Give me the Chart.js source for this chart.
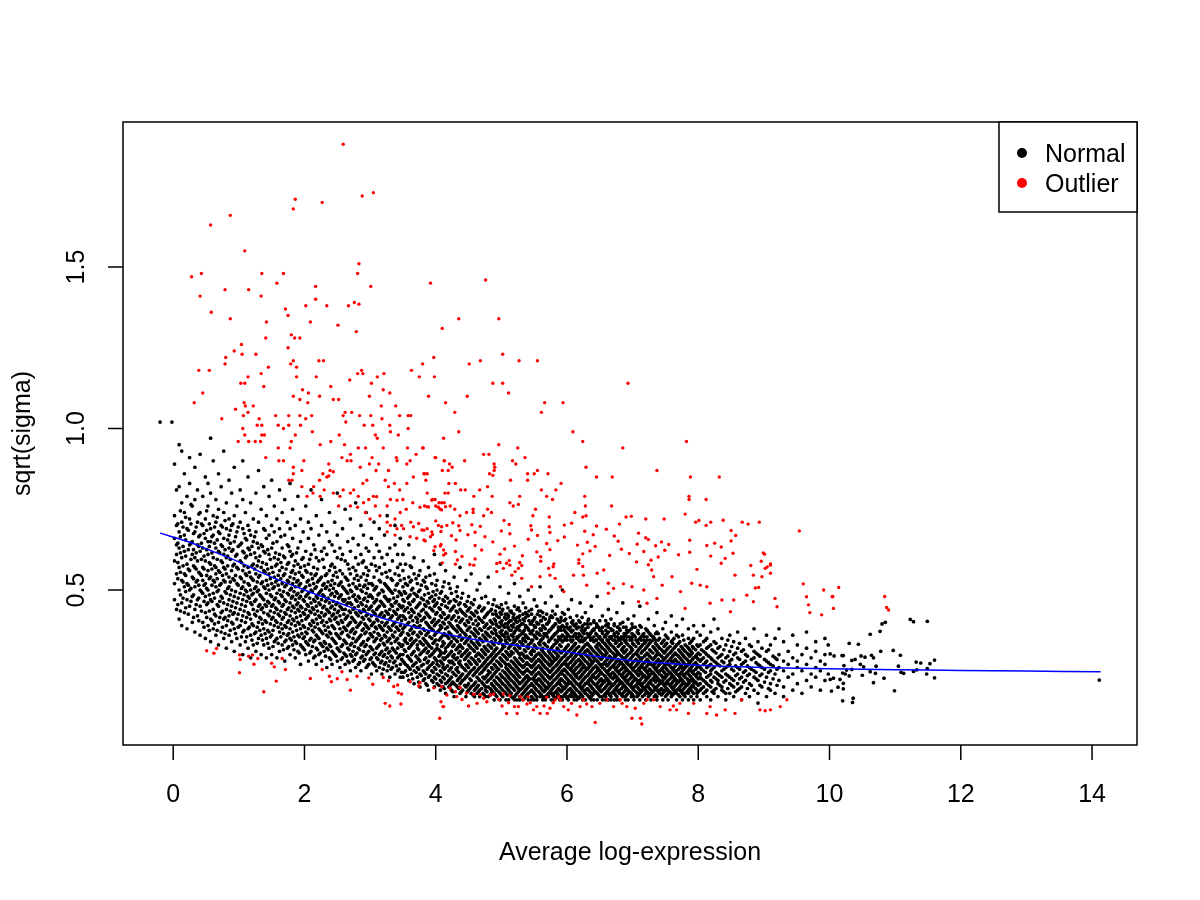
<!DOCTYPE html>
<html>
<head>
<meta charset="utf-8">
<title>sqrt(sigma) vs average log-expression</title>
<script src="https://cdn.jsdelivr.net/npm/chart.js@4.4.0/dist/chart.umd.min.js"></script>
<style>
  html, body { margin: 0; padding: 0; background: #fff; }
  canvas { display: block; }
</style>
</head>
<body>
<canvas id="saPlot" width="1200" height="900"></canvas>
<script>
const xTicks = [0, 2, 4, 6, 8, 10, 12, 14];
const yTicks = [0.5, 1.0, 1.5];

// fitted trend (blue)
const trendX = [-0.2, 0.25, 0.5, 1.0, 1.5, 2.0, 2.5, 3.0, 3.5, 4.0, 4.5, 5.0, 5.5, 6.0, 6.5, 7.0, 7.5, 8.0, 8.5, 9.0, 10.0, 11.0, 12.0, 13.0, 14.13];
const trendY = [0.676, 0.648, 0.628, 0.587, 0.540, 0.500, 0.462, 0.425, 0.395, 0.370, 0.350, 0.334, 0.322, 0.308, 0.293, 0.281, 0.273, 0.267, 0.263, 0.260, 0.256, 0.253, 0.251, 0.249, 0.247];

// normal genes, columns: [x, y, y, ...]
const normalLeft = [
  [-0.20,1.02],[-0.02,1.02],
  [0.02,.47,.52,.59,.66,.73,.89],[0.05,.44,.55,.61,.64,.70,.81],[0.09,.41,.50,.57,.63,.68,.82,.95],
  [0.13,.39,.46,.53,.60,.71,.77,.93],[0.17,.43,.51,.55,.62,.67,.74,.86],[0.21,.38,.47,.52,.58,.69,.79],
  [0.25,.45,.50,.56,.64,.72,.83,.91],[0.29,.40,.48,.54,.61,.65,.76],[0.33,.37,.44,.51,.57,.60,.68,.78,.88],
  [0.37,.42,.47,.53,.59,.64,.71,.81],[0.41,.36,.45,.50,.55,.62,.67,.74,.92],[0.45,.40,.49,.53,.57,.63,.70,.79],
  [0.49,.35,.43,.48,.52,.59,.66,.72,.85],[0.53,.39,.46,.50,.56,.61,.65,.76,.83],[0.57,.34,.41,.47,.54,.58,.65,.69,.80,.97],
  [0.61,.38,.44,.49,.53,.60,.67,.73,.90],[0.65,.36,.42,.51,.55,.57,.63,.71,.78],[0.69,.33,.40,.45,.50,.56,.62,.68,.75,.86],
  [0.73,.37,.43,.48,.52,.59,.64,.70,.82],[0.77,.35,.41,.46,.53,.57,.61,.66,.74,.93],[0.81,.32,.39,.44,.49,.55,.60,.69,.77],
  [0.85,.36,.42,.47,.51,.54,.63,.67,.72,.84],[0.89,.34,.40,.45,.50,.56,.62,.70,.80],[0.93,.31,.38,.43,.48,.53,.58,.65,.73,.88],
  [0.97,.35,.41,.46,.52,.57,.61,.68,.76],[1.02,.33,.39,.44,.49,.54,.59,.64,.71,.81],[1.06,.30,.37,.42,.47,.51,.56,.62,.69,.78,.90],
  [1.10,.34,.40,.45,.50,.55,.60,.66,.74],[1.14,.32,.38,.43,.48,.52,.57,.63,.70,.85],[1.18,.29,.36,.41,.46,.50,.54,.61,.67,.77],
  [1.22,.33,.39,.44,.49,.53,.58,.65,.72],[1.26,.31,.37,.42,.47,.51,.55,.60,.68,.80],[1.30,.35,.40,.45,.50,.54,.59,.63,.71,.87],
  [1.34,.30,.36,.41,.44,.48,.52,.57,.64,.75],[1.38,.33,.38,.43,.47,.51,.56,.62,.69,.82],[1.42,.29,.35,.40,.45,.49,.53,.58,.66,.73],
  [1.46,.32,.37,.42,.46,.50,.55,.61,.67,.79],[1.50,.30,.36,.41,.45,.48,.52,.57,.63,.70,.84],[1.54,.34,.39,.43,.47,.51,.54,.60,.68,.76],
  [1.58,.29,.35,.40,.44,.49,.53,.58,.65,.72],[1.62,.31,.37,.42,.46,.50,.56,.61,.69,.81],[1.66,.33,.38,.41,.45,.48,.52,.57,.63,.74],
  [1.70,.28,.34,.39,.43,.47,.51,.55,.60,.67,.78],[1.74,.32,.36,.40,.44,.49,.53,.58,.64,.71],[1.78,.30,.35,.38,.42,.46,.50,.54,.62,.69,.83],
  [1.82,.33,.37,.41,.45,.48,.52,.56,.61,.66,.75],[1.86,.29,.34,.39,.43,.47,.51,.55,.59,.70],[1.90,.31,.36,.40,.44,.46,.49,.53,.58,.63,.79],
  [1.94,.27,.33,.38,.42,.45,.48,.52,.57,.65,.72],[1.98,.32,.35,.39,.43,.47,.50,.54,.60,.68],[2.02,.30,.34,.37,.41,.44,.48,.51,.56,.62,.76],
  [2.06,.28,.33,.38,.42,.45,.49,.53,.58,.66,.71],[2.10,.31,.35,.39,.43,.46,.50,.55,.61,.69,.81],[2.14,.29,.34,.37,.40,.44,.47,.52,.57,.64],
  [2.18,.27,.32,.36,.41,.45,.48,.51,.55,.60,.73],[2.22,.30,.35,.38,.42,.46,.49,.53,.59,.67],[2.26,.28,.33,.37,.40,.43,.47,.50,.54,.62,.70,.78],
  [2.30,.31,.34,.39,.42,.45,.48,.52,.57,.63],[2.34,.26,.32,.36,.40,.44,.47,.51,.55,.61,.68],[2.38,.29,.33,.37,.41,.43,.46,.50,.56,.65,.74],
  [2.42,.27,.31,.35,.39,.42,.45,.49,.53,.58,.64],[2.46,.30,.34,.38,.41,.44,.48,.52,.57,.62,.71],[2.50,.28,.32,.36,.40,.43,.46,.49,.54,.60,.67,.80],
  [2.54,.26,.31,.35,.38,.42,.45,.48,.52,.56,.63],[2.58,.29,.33,.37,.40,.44,.47,.51,.55,.61,.69],[2.62,.27,.30,.34,.38,.41,.44,.47,.50,.54,.59,.75],
  [2.66,.28,.32,.36,.39,.42,.46,.49,.53,.58,.65],[2.70,.25,.30,.33,.37,.40,.43,.46,.50,.55,.62,.72],[2.74,.28,.31,.35,.38,.41,.44,.48,.52,.57,.66],
  [2.78,.26,.30,.34,.37,.40,.43,.47,.51,.56,.60,.77],[2.82,.27,.32,.35,.39,.42,.45,.48,.53,.58,.64],[2.86,.25,.29,.33,.36,.40,.43,.46,.50,.54,.61,.70],
  [2.90,.28,.31,.34,.38,.41,.44,.47,.51,.55,.59,.67],[2.94,.26,.30,.33,.37,.39,.42,.45,.49,.53,.57,.63,.74],[2.98,.27,.31,.35,.38,.41,.44,.48,.52,.56,.62],
  [3.02,.24,.29,.32,.36,.39,.42,.45,.48,.52,.58,.66],[3.06,.27,.30,.34,.37,.40,.43,.46,.50,.54,.60,.71],[3.10,.25,.29,.32,.35,.38,.41,.44,.47,.51,.56,.64],
  [3.14,.26,.30,.33,.36,.39,.42,.45,.49,.53,.57,.62,.69],[3.18,.24,.28,.31,.35,.38,.40,.43,.46,.50,.55,.60],[3.22,.27,.30,.33,.36,.39,.42,.45,.48,.52,.58,.67],
  [3.26,.25,.29,.32,.34,.37,.40,.43,.47,.51,.54,.61,.73],[3.30,.23,.28,.31,.35,.38,.41,.44,.47,.50,.56,.63],[3.34,.26,.29,.32,.36,.39,.42,.45,.49,.53,.59],
  [3.38,.24,.28,.31,.34,.37,.40,.43,.46,.50,.55,.64,.70],[3.42,.25,.29,.32,.35,.38,.41,.44,.48,.52,.57,.61],[3.46,.23,.27,.30,.33,.36,.39,.42,.45,.49,.53,.58,.66]
];

// second pass over the left cloud, between the columns above
const normalLeftFill = [
  [0.07,.455,.535,.585,.645,.705],[0.11,.435,.485,.555,.615,.665,.745],[0.15,.475,.525,.575,.635,.695],
  [0.19,.445,.495,.545,.605,.655,.725],[0.23,.425,.515,.565,.625,.685],[0.27,.465,.505,.595,.645,.705,.765],
  [0.31,.415,.485,.535,.575,.625,.675],[0.35,.455,.525,.565,.615,.695],[0.39,.405,.475,.515,.555,.635,.665,.735],
  [0.43,.435,.495,.545,.595,.645,.705],[0.47,.385,.465,.515,.565,.605,.675],[0.51,.415,.455,.505,.545,.625,.685,.745],
  [0.55,.375,.435,.485,.535,.585,.635,.705],[0.59,.405,.465,.515,.565,.615,.665],[0.63,.395,.425,.475,.525,.575,.645,.695],
  [0.67,.375,.455,.495,.535,.595,.655,.725],[0.71,.415,.465,.515,.555,.615,.675],[0.75,.385,.435,.475,.545,.585,.635,.695],
  [0.79,.365,.415,.495,.525,.565,.625,.715],[0.83,.405,.455,.505,.575,.605,.655],[0.87,.375,.435,.485,.525,.595,.645,.685],
  [0.91,.395,.425,.465,.535,.575,.625,.705],[0.95,.365,.445,.495,.545,.605,.665],[0.99,.385,.425,.475,.515,.565,.635,.695],
  [1.04,.355,.405,.455,.505,.535,.585,.645],[1.08,.375,.435,.485,.525,.575,.615,.675],[1.12,.355,.415,.465,.495,.545,.605,.655],
  [1.16,.385,.425,.475,.515,.555,.625,.685],[1.20,.345,.395,.455,.485,.535,.575,.635],[1.24,.365,.425,.465,.505,.565,.615,.665],
  [1.28,.335,.385,.435,.495,.525,.575,.645],[1.32,.375,.415,.455,.485,.545,.605],[1.36,.345,.395,.445,.475,.525,.585,.635],
  [1.40,.365,.405,.455,.505,.555,.615,.685],[1.44,.335,.375,.425,.465,.515,.565,.625],[1.48,.355,.395,.435,.485,.535,.595],
  [1.52,.325,.375,.415,.455,.505,.555,.645],[1.56,.345,.405,.445,.475,.525,.575,.615],[1.60,.335,.385,.425,.465,.515,.545,.595],
  [1.64,.355,.395,.435,.485,.535,.585,.665],[1.68,.315,.365,.415,.455,.495,.545,.605],[1.72,.345,.385,.425,.465,.515,.565],
  [1.76,.325,.365,.405,.445,.485,.525,.585,.635],[1.80,.345,.395,.435,.475,.505,.555,.605],[1.84,.315,.355,.405,.445,.495,.535,.575],
  [1.88,.335,.375,.415,.455,.485,.525,.615],[1.92,.305,.355,.395,.435,.475,.515,.555],[1.96,.325,.365,.405,.445,.495,.545,.595],
  [2.00,.315,.355,.385,.425,.465,.505,.575],[2.04,.335,.365,.415,.455,.485,.525,.555],[2.08,.305,.345,.395,.435,.475,.515,.595],
  [2.12,.325,.375,.405,.445,.495,.535],[2.16,.295,.345,.385,.425,.465,.505,.545,.625],[2.20,.315,.355,.395,.435,.475,.525,.565],
  [2.24,.305,.335,.375,.415,.455,.495,.535],[2.28,.325,.365,.405,.445,.485,.515,.595],[2.32,.295,.335,.375,.425,.465,.505,.545],
  [2.36,.315,.355,.385,.435,.475,.525],[2.40,.285,.325,.365,.405,.445,.485,.515,.575],[2.44,.305,.345,.385,.425,.465,.505,.545],
  [2.48,.295,.335,.365,.415,.455,.495,.555],[2.52,.315,.355,.395,.435,.475,.515],[2.56,.285,.325,.365,.405,.445,.485,.525,.595],
  [2.60,.305,.345,.385,.425,.465,.505],[2.64,.295,.335,.375,.415,.455,.495,.535],[2.68,.275,.315,.355,.395,.435,.475,.515,.565],
  [2.72,.295,.335,.375,.415,.455,.495],[2.76,.285,.325,.365,.405,.445,.485,.535],[2.80,.305,.345,.385,.425,.465,.505,.545],
  [2.84,.275,.315,.355,.395,.435,.475,.515],[2.88,.295,.335,.375,.415,.455,.495,.585],[2.92,.285,.325,.365,.395,.435,.475,.515],
  [2.96,.265,.305,.345,.385,.425,.465,.505,.545],[3.00,.285,.325,.365,.405,.445,.485],[3.04,.275,.315,.355,.395,.435,.475,.515],
  [3.08,.265,.305,.345,.385,.425,.465,.505,.575],[3.12,.285,.325,.365,.405,.445,.485],[3.16,.275,.305,.345,.385,.425,.465,.525],
  [3.20,.255,.295,.335,.375,.415,.455,.495],[3.24,.275,.315,.355,.395,.435,.475,.515,.555],[3.28,.265,.305,.345,.385,.425,.465,.505],
  [3.32,.255,.295,.335,.375,.415,.455,.495,.535],[3.36,.275,.315,.355,.395,.435,.475],[3.40,.265,.305,.345,.385,.425,.465,.515],
  [3.44,.255,.295,.335,.375,.415,.455,.495,.545],[3.48,.245,.285,.325,.365,.405,.445,.485]
];

const normalCore = [
  [3.50,.23,.28,.30,.33,.37,.38,.42,.45,.47,.51,.56,.61],[3.54,.25,.27,.31,.34,.35,.39,.41,.44,.49,.52,.58],
  [3.59,.22,.26,.29,.32,.36,.40,.43,.46,.48,.54,.64],[3.63,.24,.28,.30,.33,.35,.38,.42,.44,.50,.53,.57],
  [3.67,.21,.25,.27,.31,.34,.37,.39,.43,.47,.49,.55,.60],[3.72,.23,.26,.29,.32,.33,.36,.40,.41,.45,.48,.52],
  [3.76,.20,.24,.28,.30,.34,.37,.39,.42,.46,.50,.56],[3.81,.22,.25,.27,.31,.33,.35,.38,.41,.44,.47,.53,.59],
  [3.85,.21,.24,.29,.32,.34,.36,.40,.43,.45,.51,.54],[3.89,.19,.23,.26,.28,.31,.33,.37,.39,.42,.46,.49,.57],
  [3.94,.22,.25,.27,.30,.32,.35,.38,.40,.44,.48,.52],[3.98,.20,.23,.26,.29,.31,.34,.36,.39,.41,.45,.47,.55,.61],
  [4.02,.21,.24,.27,.28,.32,.33,.37,.40,.43,.46,.50,.53],[4.07,.19,.22,.25,.28,.30,.31,.35,.38,.39,.42,.44,.49,.58],
  [4.11,.20,.23,.26,.27,.29,.33,.34,.36,.40,.43,.47,.51],[4.15,.18,.21,.24,.26,.29,.31,.32,.36,.38,.41,.45,.48,.56],
  [4.20,.20,.22,.25,.28,.30,.33,.35,.37,.40,.42,.46,.52],[4.24,.19,.21,.23,.26,.28,.31,.34,.36,.39,.41,.44,.49],
  [4.28,.17,.21,.24,.27,.29,.30,.33,.35,.38,.42,.45,.47,.54],[4.33,.20,.22,.25,.26,.29,.32,.34,.37,.39,.43,.48,.51],
  [4.37,.18,.21,.23,.27,.28,.31,.33,.36,.38,.40,.44,.46,.57],[4.41,.19,.22,.24,.26,.30,.32,.35,.37,.41,.43,.49],
  [4.46,.17,.20,.23,.25,.27,.29,.31,.34,.36,.39,.42,.45,.53],[4.50,.19,.21,.24,.26,.28,.30,.33,.35,.38,.40,.44,.48],
  [4.54,.18,.20,.22,.25,.27,.29,.32,.34,.37,.41,.43,.46,.55],[4.59,.17,.19,.21,.24,.26,.28,.31,.33,.36,.38,.42,.47],
  [4.63,.18,.20,.23,.25,.27,.30,.32,.34,.37,.39,.43,.50],[4.67,.17,.19,.22,.24,.26,.28,.30,.33,.35,.38,.41,.45,.52],
  [4.72,.18,.21,.23,.25,.27,.29,.31,.34,.36,.40,.44],[4.76,.17,.19,.20,.23,.26,.28,.30,.32,.35,.37,.39,.42,.48],
  [4.80,.17,.20,.22,.24,.25,.27,.29,.31,.33,.36,.38,.43,.46,.54],[4.85,.18,.19,.21,.23,.26,.28,.30,.32,.34,.37,.40,.44],
  [4.89,.16,.18,.20,.22,.24,.27,.29,.31,.33,.35,.38,.41,.47],[4.93,.17,.19,.21,.23,.25,.26,.28,.30,.32,.36,.39,.42,.45],
  [4.98,.16,.18,.20,.22,.24,.27,.29,.31,.34,.35,.37,.40,.43,.51],[5.02,.17,.19,.21,.23,.25,.28,.30,.32,.33,.36,.39,.44],
  [5.07,.16,.18,.20,.22,.24,.26,.27,.29,.31,.34,.37,.41,.46],[5.11,.16,.19,.21,.23,.25,.27,.30,.32,.35,.38,.40,.42,.49],
  [5.15,.17,.18,.20,.22,.24,.26,.28,.30,.31,.33,.36,.39,.43],[5.20,.16,.17,.19,.21,.23,.25,.27,.29,.32,.34,.37,.41,.45,.52],
  [5.24,.16,.18,.20,.22,.24,.26,.28,.31,.33,.35,.38,.40,.44],[5.28,.16,.17,.19,.21,.23,.25,.27,.29,.30,.32,.34,.36,.39,.42,.48],
  [5.33,.16,.18,.20,.22,.24,.26,.28,.30,.33,.35,.37,.41,.46],[5.37,.17,.19,.21,.23,.25,.27,.29,.31,.34,.36,.39,.43],
  [5.41,.16,.18,.20,.22,.23,.25,.27,.29,.32,.33,.35,.38,.42,.50],[5.46,.16,.17,.19,.21,.24,.26,.28,.30,.31,.34,.37,.40,.44],
  [5.50,.16,.18,.20,.22,.23,.25,.27,.29,.31,.33,.36,.39,.41,.47],[5.54,.16,.17,.19,.21,.22,.24,.26,.28,.30,.32,.35,.37,.40,.45],
  [5.59,.17,.18,.20,.22,.24,.26,.28,.30,.33,.34,.36,.38,.42,.51],[5.63,.16,.17,.19,.21,.23,.25,.27,.29,.31,.32,.35,.39,.43],
  [5.67,.16,.17,.19,.20,.22,.24,.26,.28,.30,.33,.36,.38,.41,.46],[5.72,.17,.18,.20,.21,.23,.25,.27,.29,.31,.34,.37,.40],
  [5.76,.16,.18,.19,.21,.23,.25,.27,.28,.30,.32,.35,.38,.42,.48],[5.80,.16,.17,.18,.20,.22,.24,.26,.28,.29,.31,.33,.36,.39],
  [5.85,.17,.18,.19,.21,.23,.25,.27,.29,.30,.32,.34,.37,.41,.45],[5.89,.16,.17,.19,.21,.22,.24,.26,.28,.31,.33,.35,.38,.40],
  [5.93,.16,.17,.19,.20,.22,.24,.25,.27,.29,.31,.34,.36,.39,.43,.50],[5.98,.17,.18,.20,.21,.23,.25,.27,.28,.30,.32,.35,.37,.41],
  [6.02,.16,.17,.19,.21,.22,.24,.26,.27,.29,.31,.33,.36,.38,.44],[6.07,.17,.18,.19,.21,.23,.25,.26,.28,.30,.32,.34,.37,.40,.47],
  [6.11,.16,.17,.18,.20,.22,.24,.25,.27,.29,.31,.33,.36,.39],[6.15,.16,.17,.19,.21,.23,.24,.26,.28,.30,.32,.35,.38,.42],
  [6.20,.17,.18,.20,.21,.23,.25,.27,.28,.30,.31,.34,.36,.40,.46],[6.24,.16,.17,.19,.20,.22,.24,.26,.27,.29,.32,.34,.37,.39],
  [6.28,.16,.18,.19,.21,.23,.25,.26,.28,.30,.31,.33,.35,.38,.43],[6.33,.17,.19,.21,.22,.24,.26,.27,.29,.31,.33,.36,.41],
  [6.37,.16,.17,.18,.20,.22,.23,.25,.27,.28,.30,.32,.35,.37,.45],[6.41,.16,.18,.19,.21,.23,.24,.26,.28,.29,.31,.34,.38,.40],
  [6.46,.16,.18,.20,.21,.23,.25,.26,.28,.30,.32,.33,.36,.39,.48],[6.50,.17,.19,.20,.22,.24,.25,.27,.29,.31,.33,.35,.38],
  [6.54,.16,.17,.19,.21,.22,.24,.26,.27,.29,.30,.32,.34,.37,.42],[6.59,.16,.17,.18,.20,.22,.23,.25,.27,.28,.30,.31,.33,.36,.39],
  [6.63,.16,.18,.19,.21,.22,.24,.25,.27,.29,.32,.34,.37,.44],[6.67,.16,.17,.18,.20,.21,.23,.24,.26,.28,.29,.31,.33,.35,.38,.41],
  [6.72,.16,.18,.19,.21,.23,.24,.26,.27,.29,.30,.32,.36,.39],[6.76,.16,.17,.19,.20,.22,.23,.25,.26,.28,.30,.31,.34,.37,.43],
  [6.80,.16,.18,.19,.21,.22,.24,.25,.27,.28,.30,.33,.35,.38],[6.85,.17,.18,.20,.21,.23,.24,.26,.27,.29,.31,.32,.35,.40,.46],
  [6.89,.16,.17,.19,.20,.22,.23,.25,.26,.28,.29,.31,.34,.36],[6.93,.16,.18,.19,.21,.22,.24,.25,.27,.28,.30,.33,.37,.41],
  [6.98,.17,.18,.20,.21,.23,.24,.26,.27,.29,.31,.32,.35,.38],[7.02,.16,.17,.19,.20,.22,.23,.25,.26,.28,.30,.33,.36,.42],
  [7.07,.17,.18,.20,.21,.22,.24,.25,.27,.28,.30,.31,.34,.37],[7.11,.16,.18,.19,.21,.22,.24,.25,.26,.28,.29,.32,.35,.39,.45],
  [7.15,.17,.19,.20,.21,.23,.24,.26,.27,.29,.31,.33,.36],[7.20,.16,.18,.19,.20,.22,.23,.25,.26,.28,.30,.32,.34,.38],
  [7.24,.17,.18,.20,.21,.23,.24,.25,.27,.28,.30,.33,.37,.41],[7.28,.16,.18,.19,.21,.22,.24,.25,.27,.29,.31,.34,.36],
  [7.33,.17,.19,.20,.22,.23,.24,.26,.27,.29,.32,.35,.39],[7.37,.16,.17,.19,.20,.22,.23,.25,.26,.28,.30,.31,.33,.37,.43],
  [7.41,.18,.19,.21,.22,.24,.25,.27,.28,.30,.32,.35],[7.46,.16,.18,.19,.21,.22,.23,.25,.26,.28,.29,.31,.34,.38],
  [7.50,.17,.19,.20,.21,.23,.24,.26,.27,.29,.31,.33,.36,.40],[7.54,.16,.18,.19,.21,.22,.24,.25,.27,.28,.30,.32,.35],
  [7.59,.17,.18,.20,.21,.23,.24,.26,.28,.29,.31,.34,.37,.42],[7.63,.18,.19,.20,.22,.23,.25,.26,.28,.30,.32,.35],
  [7.67,.16,.18,.19,.21,.22,.24,.25,.27,.28,.30,.33,.36,.39],[7.72,.17,.19,.20,.22,.23,.24,.26,.27,.29,.31,.34],
  [7.76,.16,.18,.19,.21,.22,.24,.25,.26,.28,.30,.32,.36,.41],[7.80,.17,.18,.20,.21,.23,.24,.26,.27,.29,.31,.33],
  [7.85,.16,.18,.19,.21,.22,.24,.25,.27,.28,.30,.32,.35,.38],[7.89,.17,.19,.20,.22,.23,.25,.26,.28,.30,.31,.34],
  [7.93,.16,.18,.20,.21,.22,.24,.25,.27,.29,.32,.35,.39],[7.98,.17,.18,.19,.21,.23,.24,.26,.27,.29,.30,.33,.37]
];

// second pass over the solid part of the cloud
const normalCoreFill = [
  [3.52,.245,.275,.315,.345,.385,.415,.435,.465,.495,.535],[3.57,.235,.265,.295,.335,.365,.395,.445,.475,.515],
  [3.61,.255,.285,.325,.345,.375,.415,.455,.485,.525,.575],[3.65,.225,.265,.305,.335,.365,.405,.435,.465,.505],
  [3.70,.245,.275,.295,.345,.385,.415,.445,.485,.535],[3.74,.215,.255,.285,.315,.355,.385,.425,.455,.495,.545],
  [3.78,.235,.265,.305,.335,.365,.405,.435,.475,.515],[3.83,.225,.245,.285,.315,.345,.375,.415,.455,.485,.525],
  [3.87,.205,.255,.275,.305,.335,.365,.395,.425,.465,.505],[3.91,.235,.265,.295,.325,.355,.385,.415,.445,.475,.545],
  [3.96,.215,.245,.275,.305,.335,.375,.405,.435,.465,.495],[4.00,.225,.255,.285,.315,.345,.365,.395,.425,.455,.485,.515],
  [4.05,.205,.235,.265,.295,.315,.345,.375,.405,.445,.475],[4.09,.215,.245,.275,.305,.325,.355,.385,.415,.455,.495],
  [4.13,.195,.225,.255,.285,.305,.335,.365,.395,.425,.465,.525],[4.18,.215,.235,.265,.295,.325,.355,.385,.415,.445,.475],
  [4.22,.205,.225,.255,.275,.305,.335,.365,.395,.435,.465,.505],[4.26,.185,.215,.245,.275,.295,.325,.355,.385,.415,.445],
  [4.31,.205,.235,.255,.285,.315,.345,.375,.405,.435,.465,.495],[4.35,.195,.225,.245,.275,.305,.325,.355,.385,.415,.455],
  [4.39,.185,.215,.235,.265,.295,.325,.345,.375,.405,.435,.475],[4.44,.205,.225,.255,.285,.305,.335,.365,.395,.425,.455],
  [4.48,.185,.205,.235,.265,.295,.315,.345,.375,.405,.435,.465],[4.52,.195,.225,.245,.275,.305,.325,.355,.385,.415,.445],
  [4.57,.175,.205,.235,.255,.285,.315,.335,.365,.395,.425,.455],[4.61,.195,.215,.245,.275,.295,.325,.355,.375,.405,.435],
  [4.65,.185,.205,.225,.255,.285,.305,.335,.365,.395,.415,.445],[4.70,.195,.215,.245,.265,.295,.315,.345,.375,.405,.435,.475],
  [4.74,.175,.205,.225,.255,.275,.305,.325,.355,.385,.415,.445],[4.78,.185,.215,.235,.265,.285,.315,.345,.365,.395,.425],
  [4.83,.175,.195,.225,.245,.275,.295,.325,.355,.385,.405,.435],[4.87,.185,.205,.235,.255,.285,.305,.335,.365,.395,.425,.455],
  [4.91,.175,.195,.215,.245,.265,.295,.315,.345,.375,.405,.435],[4.96,.185,.205,.225,.255,.275,.305,.335,.355,.385,.415],
  [5.00,.175,.195,.215,.235,.265,.285,.315,.345,.365,.395,.425,.455],[5.05,.185,.205,.225,.245,.275,.295,.325,.355,.385,.415],
  [5.09,.175,.195,.215,.235,.255,.285,.305,.335,.365,.395,.425],[5.13,.185,.205,.225,.245,.265,.295,.325,.345,.375,.405,.435],
  [5.18,.165,.195,.215,.235,.255,.275,.305,.335,.355,.385,.415],[5.22,.175,.205,.225,.245,.265,.285,.315,.345,.375,.405],
  [5.26,.185,.195,.215,.235,.255,.275,.305,.325,.355,.385,.415,.445],[5.31,.175,.195,.215,.245,.265,.285,.305,.335,.365,.395],
  [5.35,.165,.185,.205,.225,.245,.265,.295,.315,.345,.375,.405],[5.39,.175,.195,.215,.235,.255,.275,.295,.325,.355,.385,.425],
  [5.44,.185,.205,.225,.245,.265,.285,.305,.335,.365,.395],[5.48,.165,.185,.205,.225,.245,.265,.285,.315,.345,.375,.405],
  [5.52,.175,.195,.215,.235,.255,.275,.295,.325,.355,.385],[5.57,.185,.205,.225,.245,.265,.285,.305,.335,.365,.395,.435],
  [5.61,.175,.195,.215,.235,.255,.275,.295,.315,.345,.375,.405],[5.65,.165,.185,.205,.225,.245,.265,.285,.305,.335,.365,.385],
  [5.70,.175,.195,.215,.235,.255,.275,.295,.325,.355,.395],[5.74,.185,.205,.225,.245,.265,.285,.305,.315,.345,.375,.415],
  [5.78,.175,.195,.215,.235,.255,.275,.295,.325,.355,.385],[5.83,.165,.185,.205,.225,.245,.265,.285,.305,.335,.365,.395],
  [5.87,.175,.195,.215,.235,.255,.275,.295,.315,.345,.375],[5.91,.185,.205,.225,.245,.265,.285,.305,.325,.355,.385,.405],
  [5.96,.175,.195,.215,.235,.255,.275,.295,.315,.345,.375],[6.00,.165,.185,.205,.225,.245,.265,.285,.305,.325,.355,.385],
  [6.05,.175,.195,.215,.235,.255,.275,.295,.315,.345,.375],[6.09,.185,.205,.225,.245,.265,.285,.305,.325,.355,.395],
  [6.13,.175,.195,.215,.235,.255,.275,.295,.315,.335,.365],[6.18,.165,.185,.205,.225,.245,.265,.285,.305,.325,.355,.385],
  [6.22,.175,.195,.215,.235,.255,.275,.295,.315,.345,.375],[6.26,.185,.205,.225,.245,.265,.285,.305,.325,.345,.365],
  [6.31,.175,.195,.215,.235,.255,.275,.295,.315,.335,.365,.395],[6.35,.165,.185,.205,.225,.245,.265,.285,.305,.325,.355],
  [6.39,.175,.195,.215,.235,.255,.275,.295,.315,.345,.375],[6.44,.185,.205,.225,.245,.265,.285,.305,.325,.345,.365],
  [6.48,.175,.195,.215,.235,.255,.275,.295,.315,.335,.355,.385],[6.52,.185,.205,.225,.245,.265,.285,.305,.325,.345,.375],
  [6.57,.175,.195,.215,.235,.255,.275,.295,.315,.335,.355],[6.61,.185,.205,.225,.245,.265,.285,.305,.325,.345,.365,.395],
  [6.65,.175,.195,.215,.235,.255,.275,.295,.315,.335,.355],[6.70,.185,.205,.225,.245,.265,.285,.305,.325,.345,.375],
  [6.74,.175,.195,.215,.235,.255,.275,.295,.315,.335,.355],[6.78,.185,.205,.225,.245,.265,.285,.305,.325,.345,.365,.385],
  [6.83,.175,.195,.215,.235,.255,.275,.295,.315,.335,.355],[6.87,.185,.205,.225,.245,.265,.285,.305,.325,.345,.365],
  [6.91,.175,.195,.215,.235,.255,.275,.295,.315,.335,.355,.375],[6.96,.185,.205,.225,.245,.265,.285,.305,.325,.345],
  [7.00,.175,.195,.215,.235,.255,.275,.295,.315,.335,.355,.385],[7.05,.185,.205,.225,.245,.265,.285,.305,.325,.345],
  [7.09,.175,.195,.215,.235,.255,.275,.295,.315,.335,.365],[7.13,.185,.205,.225,.245,.265,.285,.305,.325,.345],
  [7.18,.175,.195,.215,.235,.255,.275,.295,.315,.335,.355],[7.22,.185,.205,.225,.245,.265,.285,.305,.325,.345,.375],
  [7.26,.175,.195,.215,.235,.255,.275,.295,.315,.335],[7.31,.185,.205,.225,.245,.265,.285,.305,.325,.345,.355],
  [7.35,.175,.195,.215,.235,.255,.275,.295,.315,.335],[7.39,.185,.205,.225,.245,.265,.285,.305,.325,.345,.365],
  [7.44,.175,.195,.215,.235,.255,.275,.295,.315,.335],[7.48,.185,.205,.225,.245,.265,.285,.305,.325,.345],
  [7.52,.175,.195,.215,.235,.255,.275,.295,.315,.335,.355],[7.57,.185,.205,.225,.245,.265,.285,.305,.325],
  [7.61,.175,.195,.215,.235,.255,.275,.295,.315,.335,.345],[7.65,.185,.205,.225,.245,.265,.285,.305,.325],
  [7.70,.175,.195,.215,.235,.255,.275,.295,.315,.335,.355],[7.74,.185,.205,.225,.245,.265,.285,.305,.325],
  [7.78,.175,.195,.215,.235,.255,.275,.295,.315,.345],[7.83,.185,.205,.225,.245,.265,.285,.305,.325],
  [7.87,.195,.215,.235,.255,.275,.295,.315,.335],[7.91,.185,.205,.225,.245,.265,.285,.305,.325,.345],
  [7.96,.195,.215,.235,.255,.275,.295,.315],[8.00,.185,.205,.225,.245,.265,.285,.305,.325]
];

// upper edge of the solid band, x 4.9 to 7.4
const normalCoreUpper = [
  [4.92,.365,.395,.425],[4.97,.355,.385,.415,.445],[5.01,.375,.405,.435],[5.06,.345,.365,.395,.425],[5.10,.355,.385,.415,.445],
  [5.15,.375,.405,.435],[5.19,.345,.365,.395,.425],[5.24,.355,.385,.415],[5.28,.375,.405,.435],[5.33,.345,.365,.395,.425],
  [5.37,.355,.385,.415,.445],[5.42,.375,.405,.435],[5.46,.345,.365,.395,.425],[5.51,.355,.385,.415],[5.55,.365,.395,.425],
  [5.60,.345,.375,.405,.435],[5.64,.355,.385,.415],[5.69,.365,.395,.425],[5.73,.345,.375,.405],[5.78,.355,.385,.415,.435],
  [5.82,.345,.365,.395,.425],[5.87,.355,.385,.405],[5.91,.345,.375,.415],[5.96,.355,.385,.405,.425],[6.00,.345,.365,.395],
  [6.05,.355,.385,.415],[6.09,.345,.375,.405],[6.14,.355,.385,.395],[6.18,.345,.365,.405],[6.23,.355,.385,.415],
  [6.27,.345,.375,.395],[6.32,.355,.385,.405],[6.36,.345,.365,.395],[6.41,.355,.375,.405],[6.45,.345,.385,.395],
  [6.50,.355,.375,.405],[6.54,.345,.365,.385],[6.59,.355,.375,.405],[6.63,.345,.385,.395],[6.68,.355,.375],
  [6.72,.345,.365,.395],[6.77,.355,.385],[6.81,.345,.375,.395],[6.86,.355,.385],[6.90,.345,.365,.385],
  [6.95,.355,.375],[6.99,.345,.365,.395],[7.04,.355,.385],[7.08,.345,.375],[7.13,.355,.385],
  [7.17,.345,.365],[7.22,.355,.375],[7.26,.345,.365],[7.31,.355],[7.35,.345,.365]
];

const normalRight = [
  [8.03,.16,.19,.21,.23,.24,.26,.28,.30,.33,.36],[8.08,.18,.20,.22,.25,.27,.29,.31,.34,.39],[8.13,.17,.19,.21,.23,.26,.28,.30,.32,.35],
  [8.19,.16,.20,.22,.24,.25,.27,.29,.33,.37],[8.24,.18,.19,.23,.26,.28,.31,.34,.41],[8.30,.17,.21,.22,.24,.27,.29,.32,.38],
  [8.36,.19,.20,.23,.25,.28,.30,.35],[8.42,.16,.18,.22,.24,.26,.29,.33],[8.48,.18,.21,.23,.27,.28,.31,.36],
  [8.54,.17,.20,.22,.25,.30,.34],[8.60,.19,.21,.24,.26,.29,.32,.37],[8.66,.16,.20,.23,.27,.31],
  [8.72,.18,.22,.25,.28,.30,.35],[8.78,.17,.21,.24,.26,.33],[8.85,.19,.23,.25,.29,.31,.38],
  [8.91,.15,.18,.22,.27,.30,.34],[8.97,.20,.24,.26,.32],[9.04,.17,.23,.28,.31,.36],
  [9.10,.19,.21,.25,.27,.33],[9.17,.18,.24,.29,.35],[9.23,.22,.26,.30,.38],
  [9.30,.17,.20,.25,.28,.34],[9.37,.23,.27,.31],[9.44,.19,.24,.29,.36],
  [9.51,.21,.26,.28,.33],[9.58,.18,.25,.30],[9.65,.22,.27,.32,.37],
  [9.72,.20,.24,.29],[9.79,.23,.26,.31,.34],[9.86,.19,.25,.28],[9.93,.22,.27,.30,.35],[9.98,.24,.33],
  [8.05,.195,.225,.255,.285,.315],[8.11,.185,.215,.245,.275,.305,.345],[8.16,.205,.235,.265,.295,.325],
  [8.21,.185,.215,.255,.285,.315],[8.27,.195,.225,.245,.275,.305,.335],[8.33,.205,.235,.265,.295,.325],
  [8.39,.185,.215,.255,.275,.315],[8.45,.195,.235,.265,.295,.345],[8.51,.205,.225,.255,.285,.325],
  [8.57,.185,.235,.265,.305],[8.63,.195,.225,.255,.285,.335],[8.69,.215,.245,.275,.315],
  [8.75,.195,.235,.265,.295],[8.81,.205,.255,.285,.325],[8.88,.225,.245,.275,.305],
  [8.94,.205,.235,.265,.295],[9.01,.215,.255,.285],[9.07,.195,.245,.275,.315],[9.14,.225,.265,.295],[9.20,.205,.255,.285]
];

// sparse normal genes beyond x = 10, flat x,y pairs
const normalTail = [
  10.01,.302, 10.07,.296, 10.19,.297, 10.21,.297, 10.30,.335, 10.44,.332, 10.62,.363, 10.77,.372, 10.80,.395, 10.85,.40,
  11.23,.409, 11.28,.402, 11.49,.403, 10.97,.313, 11.08,.298, 10.78,.31, 10.64,.298, 10.67,.29, 10.54,.292, 10.48,.296,
  10.39,.285, 10.34,.282, 10.22,.266, 10.47,.27, 10.52,.262, 10.71,.264, 11.05,.264, 11.32,.277, 11.39,.274, 11.53,.272,
  11.60,.283, 11.49,.257, 11.33,.253, 11.28,.248, 11.13,.242, 11.09,.245, 11.48,.24, 11.60,.228, 10.83,.227, 10.67,.213,
  10.70,.242, 10.62,.247, 10.50,.236, 10.34,.254, 10.26,.252, 10.20,.243, 10.24,.24, 10.30,.234, 10.21,.211, 10.16,.223,
  10.06,.227, 10.01,.223, 10.03,.187, 10.13,.199, 10.21,.194, 10.99,.188, 10.20,.157, 10.36,.165, 10.35,.152, 14.11,.221
];

// outliers, flat x,y pairs
const outlierTop = [
  2.59,1.88, 2.88,1.72, 3.05,1.73, 1.86,1.71, 1.83,1.68, 2.27,1.70, 0.87,1.66, 0.57,1.63, 1.09,1.55, 0.28,1.47,
  0.43,1.48, 0.41,1.41, 0.58,1.36, 0.87,1.34, 0.79,1.43, 1.15,1.43, 1.35,1.48, 1.34,1.41, 1.68,1.48, 1.58,1.45,
  2.17,1.44, 2.83,1.51, 2.81,1.48, 3.01,1.44, 2.17,1.40, 2.02,1.38, 2.34,1.38, 2.67,1.38, 2.76,1.39, 2.83,1.385,
  1.71,1.37, 1.75,1.35, 1.42,1.33, 2.09,1.33, 2.51,1.32, 2.79,1.30, 1.41,1.28, 1.04,1.26, 0.93,1.24, 1.05,1.23,
  1.26,1.23, 0.80,1.22, 0.79,1.20, 1.75,1.25, 1.80,1.29, 1.85,1.28, 1.93,1.28, 1.83,1.21, 1.79,1.20, 1.88,1.19,
  1.45,1.19, 2.22,1.21, 2.29,1.21, 0.39,1.18, 0.55,1.18, 1.34,1.17, 1.14,1.16, 1.03,1.14, 1.09,1.14, 1.38,1.13,
  0.45,1.11, 0.32,1.08, 1.88,1.16, 2.18,1.16, 1.97,1.12, 2.06,1.11, 1.83,1.10, 1.93,1.09, 2.23,1.10, 2.40,1.13,
  2.44,1.09, 2.52,1.09, 2.05,1.08, 1.08,1.08, 1.22,1.07, 1.10,1.07, 0.95,1.06, 1.07,1.04, 1.14,1.05, 0.74,1.03,
  1.31,1.03, 1.56,1.04, 1.76,1.04, 1.93,1.04, 2.02,1.03, 2.11,1.04, 1.94,1.01, 1.28,1.01, 1.35,1.01, 1.06,1.00,
  1.60,1.01, 1.76,1.01, 1.68,1.00, 1.39,0.98, 1.35,0.98, 1.09,0.98, 0.99,0.96, 1.15,0.96, 1.25,0.96, 1.33,0.96,
  1.60,0.94, 1.78,0.94, 1.80,0.96, 1.86,0.98, 2.12,0.99, 2.24,0.95, 2.40,0.96, 2.53,0.98, 2.61,0.95, 2.59,1.04,
  2.63,1.02, 2.72,1.05, 2.62,1.05, 2.84,1.04, 3.01,1.04, 2.91,1.01, 3.04,1.01, 3.18,1.03, 3.30,1.01, 3.31,0.99,
  3.43,0.98, 3.08,0.98, 3.11,0.97, 2.82,0.94, 2.93,0.94, 3.20,0.94, 3.57,0.94, 3.58,1.00, 3.45,1.04, 3.58,1.04,
  3.62,1.04, 3.39,1.07, 3.17,1.07, 3.20,1.12, 3.30,1.11, 2.99,1.10, 3.02,1.14, 3.11,1.16, 3.21,1.17, 2.81,1.17,
  2.87,1.18, 2.89,1.17, 2.69,1.15, 3.63,1.18, 3.75,1.16
];

const outlierMid = [
  3.92,1.45, 4.76,1.46, 4.35,1.34, 4.96,1.34, 4.10,1.31, 3.97,1.22, 4.51,1.20, 4.68,1.21, 5.02,1.23, 5.27,1.21,
  5.55,1.21, 3.80,1.20, 3.98,1.16, 4.87,1.14, 5.02,1.14, 6.93,1.14, 3.89,1.10, 4.48,1.10, 5.11,1.11, 4.15,1.08,
  4.29,1.05, 5.66,1.08, 5.94,1.08, 5.61,1.05, 4.35,0.99, 6.09,0.99, 4.12,0.97, 4.96,0.95, 5.25,0.94, 6.24,0.96,
  6.85,0.94, 7.82,0.96, 3.80,0.94, 4.73,0.92, 4.81,0.92, 4.00,0.91, 4.44,0.90, 4.13,0.90, 4.21,0.89, 4.25,0.88,
  4.89,0.89, 4.90,0.88, 5.17,0.90, 5.22,0.89, 5.36,0.91, 4.10,0.87, 4.19,0.87, 6.29,0.88, 7.37,0.87, 3.83,0.86,
  3.87,0.86, 4.82,0.86, 4.89,0.87, 4.87,0.855, 5.40,0.86, 5.50,0.86, 5.55,0.87, 5.71,0.86, 6.45,0.85, 6.69,0.85,
  7.88,0.85, 8.32,0.85, 5.14,0.84, 5.40,0.84, 5.91,0.83, 4.20,0.83, 4.30,0.83, 4.38,0.81, 4.45,0.81, 4.67,0.81,
  4.79,0.82, 5.61,0.81, 5.83,0.81, 3.87,0.80, 4.19,0.80, 4.58,0.79, 4.86,0.79, 5.28,0.79, 5.69,0.79, 5.78,0.78,
  6.27,0.79, 7.86,0.79, 7.86,0.78, 8.12,0.78, 3.95,0.78, 4.05,0.77, 4.13,0.77, 3.83,0.76, 3.89,0.757, 4.00,0.76,
  4.07,0.75, 4.15,0.758, 4.22,0.76, 4.29,0.75, 4.57,0.75, 4.57,0.74, 4.79,0.75, 4.85,0.74, 5.13,0.77, 5.18,0.76,
  5.26,0.765, 5.52,0.75, 6.12,0.74, 6.28,0.76, 6.68,0.76, 7.80,0.735, 4.37,0.73, 4.47,0.74, 4.73,0.73, 5.48,0.73,
  5.73,0.726, 6.24,0.726, 6.29,0.73, 6.90,0.726, 6.98,0.728, 7.20,0.72, 7.48,0.72, 8.01,0.715, 8.38,0.716, 8.67,0.71,
  8.93,0.71, 9.54,0.683, 7.96,0.71, 8.12,0.70, 8.19,0.71, 8.76,0.704
];

const outlierBand = [
  4.00,.714, 4.26,.708, 4.35,.699, 4.55,.702, 4.68,.697, 5.04,.715, 5.12,.703, 5.45,.699, 5.73,.696, 5.96,.701, 6.07,.707, 6.45,.698, 6.80,.704,
  3.82,.685, 3.95,.672, 4.08,.681, 4.24,.668, 4.37,.684, 4.49,.671, 4.60,.679, 4.75,.665, 5.00,.683, 5.13,.674, 5.46,.686, 5.55,.669,
  5.74,.678, 5.96,.664, 6.27,.682, 6.40,.671, 6.60,.688, 6.72,.667, 7.09,.676, 7.20,.662, 8.50,.684, 8.57,.669,
  3.84,.652, 4.08,.641, 4.31,.655, 4.60,.638, 4.87,.649, 5.20,.636, 5.41,.657, 5.69,.644, 5.86,.653, 6.16,.639, 6.31,.648, 6.43,.635,
  6.78,.651, 7.07,.642, 7.24,.656, 7.35,.637, 7.44,.649, 7.55,.641, 7.87,.654, 8.13,.638, 8.25,.645, 8.35,.633, 8.50,.652,
  3.97,.622, 4.12,.608, 4.30,.619, 4.40,.604, 4.70,.624, 4.98,.611, 5.05,.627, 5.32,.606, 5.54,.618, 5.60,.603, 5.74,.625, 6.24,.612,
  6.35,.621, 6.65,.607, 6.83,.626, 6.95,.613, 7.17,.619, 7.39,.602, 7.49,.623, 7.70,.609, 7.87,.617, 8.19,.605, 8.53,.614, 9.01,.611,
  4.10,.584, 4.33,.593, 4.52,.579, 4.60,.596, 4.93,.582, 5.12,.591, 5.31,.576, 5.60,.589, 5.80,.581, 6.18,.594, 6.24,.573, 7.06,.587,
  7.24,.578, 7.28,.592, 8.35,.583, 8.41,.598, 8.80,.576, 8.96,.589, 9.10,.581, 9.05,.571
];

const outlierShoulder = [
  1.41,0.91, 1.68,0.90, 1.61,0.90, 1.83,0.88, 1.96,0.87, 1.99,0.90, 1.83,0.86, 2.14,0.82, 2.23,0.84, 2.28,0.86,
  2.34,0.85, 2.37,0.853, 2.39,0.87, 2.44,0.866, 2.37,0.89, 2.57,0.91, 2.65,0.90, 2.70,0.92, 2.71,0.90, 2.85,0.88,
  2.99,0.89, 3.03,0.91, 3.09,0.87, 3.13,0.89, 3.28,0.87, 3.41,0.90, 3.40,0.91, 3.56,0.89, 3.61,0.90, 3.70,0.92,
  3.81,0.94, 3.99,0.91, 4.13,0.90, 1.81,0.84, 1.76,0.84, 1.96,0.82, 2.04,0.79, 2.13,0.80, 2.24,0.79, 2.30,0.81,
  2.44,0.80, 2.54,0.79, 2.59,0.81, 2.70,0.80, 2.75,0.81, 2.82,0.79, 2.89,0.83, 2.95,0.84, 3.05,0.79, 3.10,0.789,
  3.23,0.84, 3.28,0.82, 3.37,0.83, 3.45,0.81, 3.50,0.78, 3.56,0.83, 3.66,0.85, 3.82,0.86, 3.85,0.84, 3.99,0.78,
  4.09,0.77, 4.14,0.80, 2.52,0.76, 2.70,0.76, 2.81,0.756, 2.90,0.77, 2.98,0.78, 3.08,0.76, 3.26,0.76, 3.31,0.78,
  3.41,0.778, 3.46,0.74, 3.55,0.75, 3.65,0.77, 3.76,0.756, 3.87,0.758, 3.94,0.778, 4.04,0.756, 4.09,0.748, 2.93,0.74,
  3.00,0.72, 3.15,0.73, 3.26,0.71, 3.31,0.70, 3.38,0.72, 3.41,0.69, 3.48,0.70, 3.51,0.69, 3.62,0.71, 3.66,0.696,
  3.74,0.706, 3.79,0.686, 3.87,0.69, 3.94,0.68, 4.04,0.70, 4.09,0.696, 4.17,0.70, 3.61,0.665, 3.71,0.66, 3.82,0.655,
  3.92,0.665, 3.99,0.634, 4.07,0.636, 4.15,0.613, 4.12,0.624, 3.26,0.68, 3.38,0.67
];

const outlierRight = [
  4.30,.580, 4.58,.577, 4.98,.585, 5.08,.583, 5.13,.577, 5.26,.567, 5.28,.585, 4.93,.557, 5.03,.567, 5.16,.546,
  5.21,.557, 5.31,.536, 5.46,.510, 5.59,.541, 5.72,.567, 5.79,.572, 5.74,.546, 5.82,.536, 5.90,.510, 5.95,.495,
  6.10,.546, 6.18,.583, 6.25,.546, 6.30,.515, 6.46,.552, 6.56,.562, 6.63,.521, 6.71,.505, 6.63,.490, 6.86,.519,
  6.99,.510, 7.09,.464, 7.17,.500, 7.22,.459, 7.29,.562, 7.32,.541, 7.37,.474, 7.45,.515, 7.60,.541, 7.73,.495,
  7.80,.443, 7.98,.564, 7.90,.521, 8.03,.515, 8.13,.510, 8.18,.459, 8.36,.469, 8.49,.433, 8.54,.469, 8.56,.546,
  8.74,.484, 8.84,.464, 8.84,.546, 8.92,.508, 8.97,.541, 9.02,.567, 9.10,.577, 9.10,.552, 9.17,.474, 9.20,.448,
  9.60,.519, 9.65,.479, 9.68,.454, 9.70,.430, 9.88,.423, 9.91,.500, 10.04,.479, 10.14,.508, 10.05,.480, 10.06,.443,
  10.84,.480, 10.87,.446, 10.90,.438, 8.99,.615, 8.87,.506
];

const outlierLow = [
  0.51,.312, 0.66,.319, 0.62,.304, 1.01,.299, 1.02,.285, 1.15,.295, 1.21,.299, 1.29,.288, 1.23,.270, 1.01,.244,
  1.38,.185, 1.50,.273, 1.54,.262, 1.57,.218, 1.71,.254, 1.66,.288, 2.09,.226, 2.27,.254, 2.38,.233, 2.41,.216,
  2.50,.225, 2.57,.247, 2.65,.223, 2.70,.190, 2.80,.233, 2.98,.228, 3.04,.208, 3.20,.229, 3.28,.219, 3.36,.201,
  3.42,.206, 3.48,.178, 3.43,.182, 3.23,.149, 3.30,.141, 3.47,.147, 3.61,.216, 3.74,.203, 3.76,.213, 3.97,.197,
  4.06,.103, 4.08,.154, 4.12,.139,
  4.09,.201, 4.22,.196, 4.37,.198, 4.30,.185, 4.11,.139, 4.40,.161, 4.50,.141, 4.58,.177, 4.68,.176, 4.73,.165,
  4.83,.175, 4.88,.178, 5.01,.141, 5.03,.178, 5.08,.118, 5.13,.173, 5.20,.139, 5.24,.118, 5.29,.170, 5.33,.160,
  5.39,.147, 5.44,.151, 5.54,.139, 5.59,.118, 5.65,.141, 5.69,.168, 5.70,.118, 5.79,.151, 5.82,.160, 5.90,.160,
  5.95,.139, 6.07,.149, 6.15,.113, 6.20,.139, 6.30,.147, 6.43,.090, 6.50,.149, 6.61,.160, 6.84,.149, 6.91,.139,
  6.99,.103, 7.12,.103, 7.14,.085, 7.17,.149, 7.32,.160, 7.42,.139, 7.57,.129, 7.62,.141, 7.85,.118, 7.93,.149,
  8.13,.118, 8.18,.139, 8.28,.113, 8.41,.129, 8.56,.118, 8.66,.160, 8.94,.129, 9.02,.126, 9.10,.129, 9.25,.139,
  9.35,.160,
  4.17,.175, 4.32,.170, 4.47,.180, 4.63,.149, 4.78,.154, 4.96,.161, 5.11,.151, 5.26,.139, 5.41,.170, 5.49,.129,
  5.74,.134, 5.87,.170, 6.02,.129, 6.25,.160, 6.38,.139, 6.71,.139, 6.81,.160, 7.04,.134, 7.22,.160, 7.67,.129, 7.72,.149
];

function columnsToPoints(cols) {
  const pts = [];
  cols.forEach(c => { for (let i = 1; i < c.length; i++) pts.push({ x: c[0], y: c[i] }); });
  return pts;
}
function pairsToPoints(arr) {
  const pts = [];
  for (let i = 0; i < arr.length; i += 2) pts.push({ x: arr[i], y: arr[i + 1] });
  return pts;
}

const normalPoints = [
  ...columnsToPoints(normalLeft), ...columnsToPoints(normalLeftFill),
  ...columnsToPoints(normalCore), ...columnsToPoints(normalCoreFill), ...columnsToPoints(normalCoreUpper),
  ...columnsToPoints(normalRight), ...pairsToPoints(normalTail)
];
const outlierPoints = [
  ...pairsToPoints(outlierTop), ...pairsToPoints(outlierMid), ...pairsToPoints(outlierBand),
  ...pairsToPoints(outlierShoulder), ...pairsToPoints(outlierRight), ...pairsToPoints(outlierLow)
];

const FONT = '25px "Liberation Sans", Arial, Helvetica, sans-serif';

// R style box, axes, titles and legend
const rFrame = {
  id: 'rFrame',
  afterDraw(chart) {
    const { ctx, chartArea: a, scales: { x, y } } = chart;
    ctx.save();
    ctx.strokeStyle = '#000';
    ctx.fillStyle = '#000';
    ctx.lineWidth = 1.5;
    ctx.strokeRect(a.left, a.top, a.right - a.left, a.bottom - a.top);

    ctx.beginPath();
    xTicks.forEach(v => {
      const p = x.getPixelForValue(v);
      ctx.moveTo(p, a.bottom); ctx.lineTo(p, a.bottom + 15);
    });
    yTicks.forEach(v => {
      const p = y.getPixelForValue(v);
      ctx.moveTo(a.left, p); ctx.lineTo(a.left - 15, p);
    });
    ctx.stroke();

    ctx.font = FONT;
    ctx.textAlign = 'center';
    ctx.textBaseline = 'alphabetic';
    xTicks.forEach(v => ctx.fillText(String(v), x.getPixelForValue(v), a.bottom + 57));
    yTicks.forEach(v => {
      ctx.save();
      ctx.translate(a.left - 39, y.getPixelForValue(v));
      ctx.rotate(-Math.PI / 2);
      ctx.fillText(v.toFixed(1), 0, 0);
      ctx.restore();
    });

    ctx.fillText('Average log-expression', (a.left + a.right) / 2, 860);
    ctx.save();
    ctx.translate(30, (a.top + a.bottom) / 2);
    ctx.rotate(-Math.PI / 2);
    ctx.fillText('sqrt(sigma)', 0, 0);
    ctx.restore();

    // legend
    const lx = 999, ly = a.top, lw = a.right - 999, lh = 90;
    ctx.fillStyle = '#fff';
    ctx.fillRect(lx, ly, lw, lh);
    ctx.strokeRect(lx, ly, lw, lh);
    [['Normal', '#000000', 153], ['Outlier', '#ff0000', 183]].forEach(([label, col, cy]) => {
      ctx.fillStyle = col;
      ctx.beginPath(); ctx.arc(1022, cy, 5, 0, Math.PI * 2); ctx.fill();
      ctx.fillStyle = '#000';
      ctx.textAlign = 'left';
      ctx.fillText(label, 1045, cy + 9);
    });
    ctx.restore();
  }
};

new Chart(document.getElementById('saPlot'), {
  type: 'scatter',
  data: {
    datasets: [
      {
        type: 'line', label: 'trend',
        data: trendX.map((v, i) => ({ x: v, y: trendY[i] })),
        borderColor: '#0000ff', borderWidth: 1.5, pointRadius: 0, tension: 0.35, fill: false, order: 0
      },
      {
        label: 'Outlier', data: outlierPoints, order: 1,
        backgroundColor: '#ff0000', borderColor: '#ff0000', borderWidth: 0, pointRadius: 1.7, pointHoverRadius: 1.7
      },
      {
        label: 'Normal', data: normalPoints, order: 2,
        backgroundColor: '#000000', borderColor: '#000000', borderWidth: 0, pointRadius: 1.85, pointHoverRadius: 1.85
      }
    ]
  },
  options: {
    responsive: false,
    animation: false,
    devicePixelRatio: 1,
    events: [],
    layout: { padding: { left: 123, right: 63, top: 122, bottom: 155 } },
    scales: {
      x: { type: 'linear', min: -0.765, max: 14.685, display: false },
      y: { type: 'linear', min: 0.0201, max: 1.949, display: false }
    },
    plugins: { legend: { display: false }, tooltip: { enabled: false } }
  },
  plugins: [rFrame]
});
</script>
</body>
</html>
